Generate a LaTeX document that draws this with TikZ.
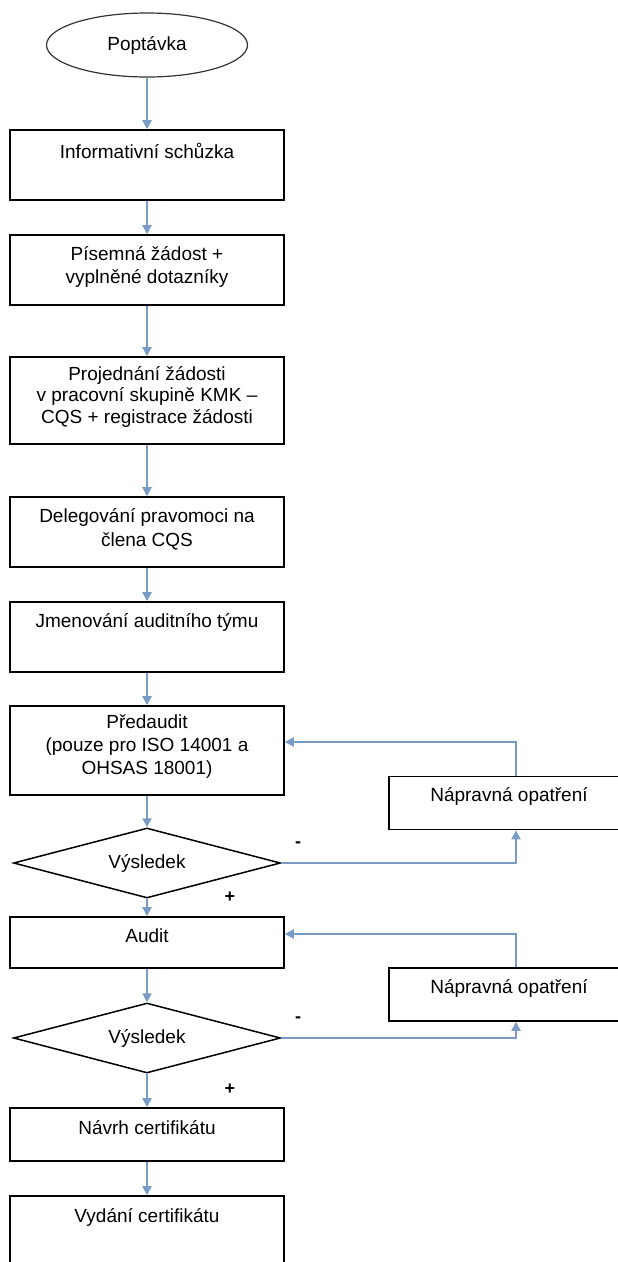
\documentclass[tikz,border=0pt]{standalone}
\usepackage{fontspec}
\setmainfont{Liberation Sans}
\usetikzlibrary{shapes.geometric,arrows.meta,positioning}
\definecolor{flowline}{RGB}{122,155,196}
\begin{document}
\begin{tikzpicture}[x=1pt, y=-1pt,
  stepbox/.style={draw=black, line width=1.6pt, rectangle, minimum width=274pt, minimum height=#1, inner sep=0pt},
  stepbox/.default=70pt,
  fixbox/.style={draw=black, line width=1.6pt, rectangle, minimum width=240pt, minimum height=53pt, inner sep=0pt},
  termbox/.style={draw=black!80, line width=1.2pt, ellipse, minimum width=201pt, minimum height=64pt, inner sep=0pt, font=\flowFont},
  decbox/.style={draw=black, line width=1.5pt, diamond, aspect=3.8, minimum width=267pt, minimum height=70pt, inner sep=0pt, font=\flowFont},
  steptext/.style={align=center, inner sep=0pt, font=\flowFont},
  signtext/.style={inner sep=0pt, font=\fontsize{18}{20}\selectfont\bfseries},
  flow/.style={draw=flowline, line width=2pt, -{Triangle[width=9pt,length=9pt]}}]
% flowchart of the certification procedure
\providecommand{\flowFont}{\fontsize{19}{23}\selectfont}
\useasboundingbox (0,0) rectangle (618,1262);
\begin{scope}[line join=miter]
  % Main column
  \node[termbox] (pop) at (147,45) {Poptávka};
  \node[stepbox] (info) at (147,165) {};
  \node[steptext, below=14pt of info.north] (infot) {Informativní schůzka};
  \node[stepbox] (req) at (147,270) {};
  \node[steptext, below=12pt of req.north] (reqt) {Písemná žádost +\\vyplněné dotazníky};
  \node[stepbox=87pt] (disc) at (147,400.5) {};
  \node[steptext, below=10pt of disc.north] (disct) {Projednání žádosti\\[-1.5pt]v pracovní skupině KMK –\\[-1.5pt]CQS + registrace žádosti};
  \node[stepbox] (dele) at (147,532) {};
  \node[steptext, below=12pt of dele.north] (delet) {Delegování pravomoci na\\[1pt]člena CQS};
  \node[stepbox] (team) at (147,637) {};
  \node[steptext, below=12pt of team.north] (teamt) {Jmenování auditního týmu};
  \node[stepbox=89pt] (pre) at (147,750.5) {};
  \node[steptext, below=9pt of pre.north] (pret) {Předaudit\\(pouze pro ISO 14001 a\\OHSAS 18001)};
  \node[decbox] (res1) at (147,863) {Výsledek};
  \node[stepbox=51pt] (aud) at (147,942.5) {};
  \node[steptext, below=12pt of aud.north] (audt) {Audit};
  \node[decbox] (res2) at (147,1038) {Výsledek};
  \node[stepbox=53pt] (draft) at (147,1134.5) {};
  \node[steptext, below=13pt of draft.north] (draftt) {Návrh certifikátu};
  \node[stepbox] (issue) at (147,1231) {};
  \node[steptext, below=13pt of issue.north] (issuet) {Vydání certifikátu};
  % Corrective actions
  \node[fixbox] (fix1) at (509,803) {};
  \node[steptext, below=12pt of fix1.north] (fix1t) {Nápravná opatření};
  \node[fixbox] (fix2) at (509,994.5) {};
  \node[steptext, below=12pt of fix2.north] (fix2t) {Nápravná opatření};
  % Decision signs
  \node[signtext] (minus1) at (298,845) {-};
  \node[signtext] (plus1) at (230,897) {+};
  \node[signtext] (minus2) at (298,1020) {-};
  \node[signtext] (plus2) at (230,1089) {+};
\end{scope}
% Connectors
\coordinate (loopx) at (516,0);
\draw[flow] (pop) -- (info);
\draw[flow] (info) -- (req);
\draw[flow] (req) -- (disc);
\draw[flow] (disc) -- (dele);
\draw[flow] (dele) -- (team);
\draw[flow] (team) -- (pre);
\draw[flow] (pre) -- (res1);
\draw[flow] (res1) -- (aud);
\draw[flow] (aud) -- (res2);
\draw[flow] (res2) -- (draft);
\draw[flow] (draft) -- (issue);
% Feedback loops
\draw[flow] (res1.east) -| (fix1.south -| loopx);
\draw[flow] (fix1.north -| loopx) |- ([yshift=8.5pt]pre.east);
\draw[flow] (res2.east) -| (fix2.south -| loopx);
\draw[flow] (fix2.north -| loopx) |- ([yshift=8.5pt]aud.east);
\end{tikzpicture}
\end{document}
